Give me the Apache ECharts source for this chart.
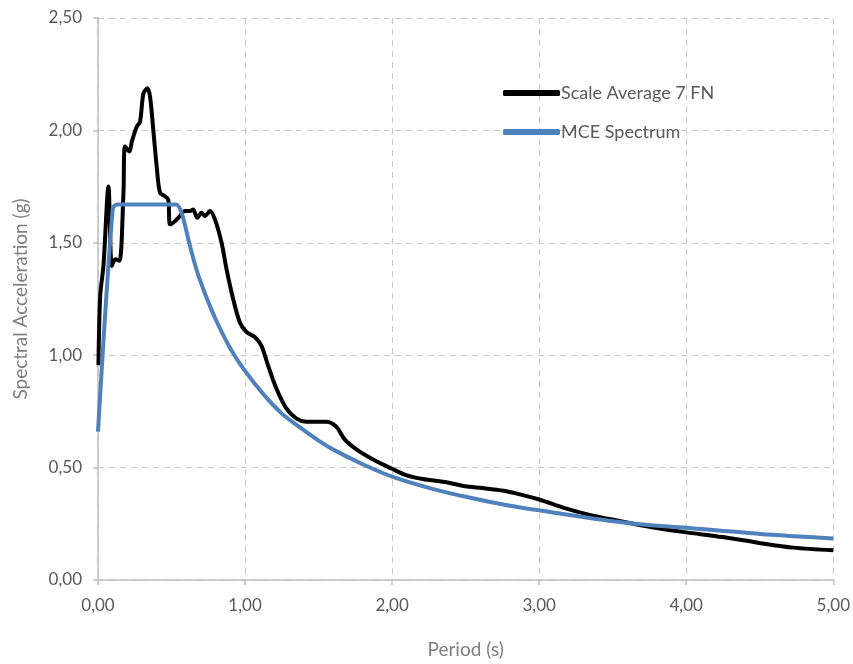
<!DOCTYPE html>
<html>
<head>
<meta charset="utf-8">
<script src="https://cdn.jsdelivr.net/npm/echarts@6/dist/echarts.min.js"></script>
<style>
  html, body { margin: 0; padding: 0; background: #fff; }
  #chart { width: 853px; height: 664px; }
</style>
</head>
<body>
<div id="chart"></div>
<script>
// Scale Average 7 FN (black)
const avgPeriod = [0.003, 0.015, 0.037, 0.071, 0.094, 0.117, 0.146, 0.173, 0.184, 0.214, 0.23, 0.264, 0.286, 0.309, 0.336, 0.354, 0.376, 0.399, 0.422, 0.456, 0.478, 0.49, 0.523, 0.557, 0.591, 0.625, 0.647, 0.675, 0.704, 0.727, 0.761, 0.795, 0.84, 0.874, 0.919, 0.964, 1.01, 1.066, 1.111, 1.156, 1.213, 1.281, 1.348, 1.416, 1.552, 1.62, 1.68, 1.777, 1.897, 2.0, 2.089, 2.209, 2.376, 2.496, 2.616, 2.76, 2.856, 3.0, 3.168, 3.336, 3.528, 3.767, 3.99, 4.247, 4.487, 4.727, 5.0];
const avgSa = [0.955, 1.265, 1.397, 1.751, 1.397, 1.427, 1.42, 1.722, 1.928, 1.906, 1.95, 2.017, 2.039, 2.165, 2.187, 2.15, 2.002, 1.84, 1.722, 1.707, 1.692, 1.582, 1.596, 1.619, 1.641, 1.641, 1.648, 1.611, 1.634, 1.619, 1.641, 1.604, 1.501, 1.383, 1.25, 1.147, 1.103, 1.081, 1.043, 0.955, 0.852, 0.763, 0.719, 0.704, 0.704, 0.682, 0.623, 0.572, 0.527, 0.495, 0.468, 0.449, 0.434, 0.417, 0.409, 0.397, 0.383, 0.358, 0.321, 0.291, 0.265, 0.235, 0.213, 0.191, 0.166, 0.144, 0.132];

// MCE Spectrum (blue)
const mcePeriod = [0.0, 0.1, 0.13, 0.53, 0.57, 0.62, 0.67, 0.73, 0.8, 0.9, 1.0, 1.12, 1.25, 1.35, 1.5, 1.6, 1.8, 2.0, 2.25, 2.5, 2.8, 3.0, 3.3, 3.65, 4.0, 4.5, 5.0];
const mceSa = [0.66, 1.65, 1.67, 1.67, 1.63, 1.50, 1.38, 1.27, 1.16, 1.03, 0.93, 0.83, 0.74, 0.69, 0.62, 0.58, 0.515, 0.46, 0.41, 0.37, 0.33, 0.31, 0.28, 0.25, 0.232, 0.205, 0.185];

const seriesNames = ['Scale Average 7 FN', 'MCE Spectrum'];

const zip = (xs, ys) => xs.map((x, i) => [x, ys[i]]);
const comma = v => v.toFixed(2).replace('.', ',');
const font = 'Lato, "Open Sans", sans-serif';

const chart = echarts.init(document.getElementById('chart'));
chart.setOption({
  animation: false,
  backgroundColor: '#ffffff',
  grid: { left: 98, right: 17, top: 18, bottom: 82 },
  legend: {
    orient: 'vertical',
    left: 498,
    top: 79,
    itemWidth: 57,
    itemHeight: 6,
    itemGap: 21,
    icon: 'roundRect',
    textStyle: { color: '#595959', fontSize: 18, fontFamily: font, padding: [0, 0, 0, -4] },
    data: seriesNames
  },
  xAxis: {
    type: 'value',
    min: 0, max: 5, interval: 1,
    name: 'Period (s)',
    nameLocation: 'middle',
    nameGap: 60,
    nameTextStyle: { color: '#7f7f7f', fontSize: 19, fontFamily: font },
    axisLine: { show: true, lineStyle: { color: '#bfbfbf', width: 1.5 } },
    axisTick: { show: true, length: 5, lineStyle: { color: '#bfbfbf', width: 1.5 } },
    axisLabel: { color: '#595959', fontSize: 17, fontFamily: font, margin: 17, formatter: comma },
    splitLine: { show: true, lineStyle: { color: '#c8c8c8', type: [6, 5], width: 1 } }
  },
  yAxis: {
    type: 'value',
    min: 0, max: 2.5, interval: 0.5,
    name: 'Spectral Acceleration (g)',
    nameLocation: 'middle',
    nameGap: 68,
    nameTextStyle: { color: '#7f7f7f', fontSize: 19, fontFamily: font },
    axisLine: { show: true, lineStyle: { color: '#bfbfbf', width: 1.5 } },
    axisTick: { show: true, length: 5, lineStyle: { color: '#bfbfbf', width: 1.5 } },
    axisLabel: { color: '#595959', fontSize: 17, fontFamily: font, margin: 16, formatter: comma },
    splitLine: { show: true, lineStyle: { color: '#c8c8c8', type: [6, 5], width: 1 } }
  },
  series: [
    {
      name: seriesNames[0],
      type: 'line',
      data: zip(avgPeriod, avgSa),
      smooth: 0.3,
      showSymbol: false,
      symbol: 'none',
      z: 3,
      itemStyle: { color: '#000000' },
      lineStyle: { color: '#000000', width: 4 }
    },
    {
      name: seriesNames[1],
      type: 'line',
      data: zip(mcePeriod, mceSa),
      smooth: 0.3,
      showSymbol: false,
      symbol: 'none',
      z: 4,
      itemStyle: { color: '#4f81bd' },
      lineStyle: { color: '#4f81bd', width: 4 }
    }
  ]
});
</script>
</body>
</html>
